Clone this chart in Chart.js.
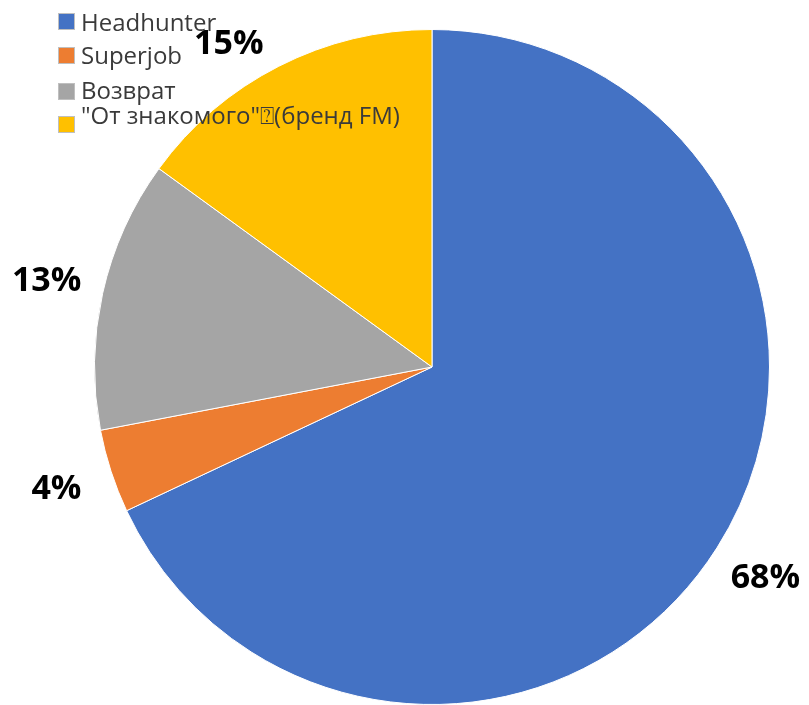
<!DOCTYPE html>
<html>
<head>
<meta charset="utf-8">
<script src="https://cdn.jsdelivr.net/npm/chart.js@4"></script>
<style>
  html, body { margin: 0; padding: 0; background: #fff; }
  #wrap { width: 809px; height: 705px; position: relative; }
</style>
</head>
<body>
<div id="wrap"><canvas id="sourceChart"></canvas></div>
<script>
const labels = ['Headhunter', 'Superjob', 'Возврат', '"От знакомого"⍰(бренд FM)']
const values = [68, 4, 13, 15]
const colors = ['#4472C4', '#ED7D31', '#A5A5A5', '#FFC000']

// legend drawn over the pie, like the original
const legendPlugin = {
  id: 'overLegend',
  afterDraw(chart) {
    const ctx = chart.ctx
    const boxY = [13, 47, 83, 116]
    const textY = [31, 64, 99, 124]
    ctx.save()
    ctx.font = '24px "Open Sans"'
    ctx.textBaseline = 'alphabetic'
    labels.forEach((label, i) => {
      ctx.fillStyle = colors[i]
      ctx.fillRect(58, boxY[i], 17, 17)
      ctx.strokeStyle = '#bfbfbf'
      ctx.lineWidth = 1
      ctx.strokeRect(58.5, boxY[i] + 0.5, 16, 16)
      ctx.fillStyle = '#3a3a3a'
      ctx.fillText(label, 81, textY[i])
    })
    ctx.restore()
  }
}

const percentPlugin = {
  id: 'percentLabels',
  afterDatasetsDraw(chart) {
    const ctx = chart.ctx
    const meta = chart.getDatasetMeta(0)
    ctx.save()
    ctx.font = 'bold 34px "Open Sans"'
    ctx.fillStyle = '#000'
    ctx.textAlign = 'center'
    ctx.textBaseline = 'middle'
    meta.data.forEach((arc, i) => {
      const p = arc.getProps(['x', 'y', 'startAngle', 'endAngle', 'outerRadius'], true)
      const mid = (p.startAngle + p.endAngle) / 2
      const dist = p.outerRadius * 1.17
      let x = p.x + Math.cos(mid) * dist
      let y = p.y + Math.sin(mid) * dist
      if (y < 44) {
        // keep inside the top edge, slide along the circle a bit
        y = 44
        const dx = Math.sqrt(Math.max(dist * dist - (y - p.y) * (y - p.y), 0))
        x = (x + p.x + (x < p.x ? -dx : dx)) / 2
      }
      ctx.fillText(values[i] + '%', x, y)
    })
    ctx.restore()
  }
}

new Chart(document.getElementById('sourceChart'), {
  type: 'pie',
  data: {
    labels: labels,
    datasets: [{
      data: values,
      backgroundColor: colors,
      borderColor: '#ffffff',
      borderWidth: 1
    }]
  },
  options: {
    responsive: true,
    maintainAspectRatio: false,
    animation: false,
    layout: { padding: { left: 94, right: 39, top: 29, bottom: 0 } },
    plugins: {
      legend: { display: false },
      tooltip: { enabled: false }
    }
  },
  plugins: [percentPlugin, legendPlugin]
})
</script>
</body>
</html>
